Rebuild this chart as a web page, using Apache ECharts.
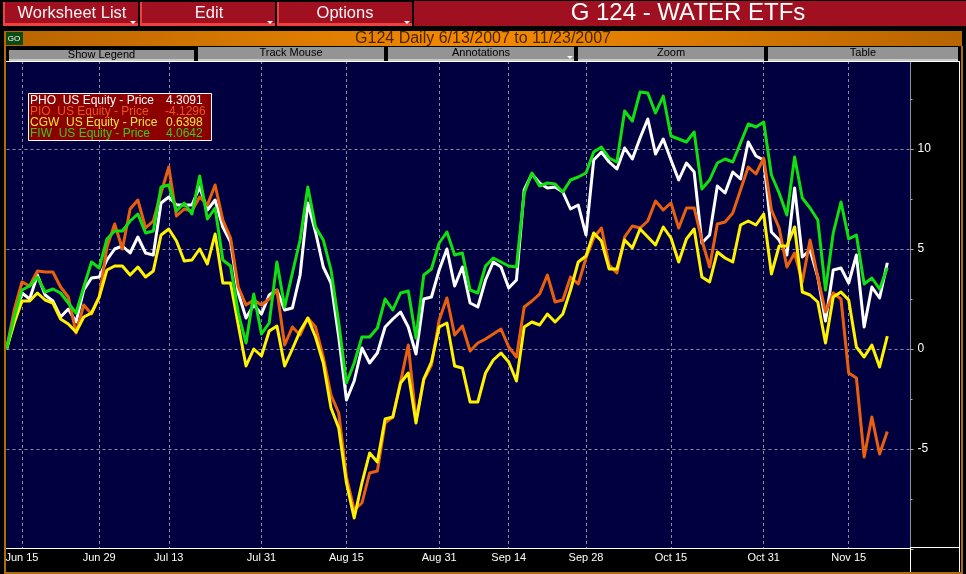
<!DOCTYPE html>
<html>

<head>
    <meta charset="utf-8" />
    <script src="https://cdn.jsdelivr.net/npm/echarts@6/dist/echarts.min.js"></script>
    <style>
        html, body { margin: 0; padding: 0; background: #000; overflow: hidden; }
    </style>
</head>

<body>
    <div id="main" style="width: 966px;height: 574px;"></div>

    <script type="text/javascript">
        var tradingDays = [
            'Jun 13', 'Jun 14', 'Jun 15', 'Jun 18', 'Jun 19', 'Jun 20', 'Jun 21', 'Jun 22', 'Jun 25', 'Jun 26',
            'Jun 27', 'Jun 28', 'Jun 29', 'Jul 2', 'Jul 3', 'Jul 5', 'Jul 6', 'Jul 9', 'Jul 10', 'Jul 11',
            'Jul 12', 'Jul 13', 'Jul 16', 'Jul 17', 'Jul 18', 'Jul 19', 'Jul 20', 'Jul 23', 'Jul 24', 'Jul 25',
            'Jul 26', 'Jul 27', 'Jul 30', 'Jul 31', 'Aug 1', 'Aug 2', 'Aug 3', 'Aug 6', 'Aug 7', 'Aug 8',
            'Aug 9', 'Aug 10', 'Aug 13', 'Aug 14', 'Aug 15', 'Aug 16', 'Aug 17', 'Aug 20', 'Aug 21', 'Aug 22',
            'Aug 23', 'Aug 24', 'Aug 27', 'Aug 28', 'Aug 29', 'Aug 30', 'Aug 31', 'Sep 4', 'Sep 5', 'Sep 6',
            'Sep 7', 'Sep 10', 'Sep 11', 'Sep 12', 'Sep 13', 'Sep 14', 'Sep 17', 'Sep 18', 'Sep 19', 'Sep 20',
            'Sep 21', 'Sep 24', 'Sep 25', 'Sep 26', 'Sep 27', 'Sep 28', 'Oct 1', 'Oct 2', 'Oct 3', 'Oct 4',
            'Oct 5', 'Oct 8', 'Oct 9', 'Oct 10', 'Oct 11', 'Oct 12', 'Oct 15', 'Oct 16', 'Oct 17', 'Oct 18',
            'Oct 19', 'Oct 22', 'Oct 23', 'Oct 24', 'Oct 25', 'Oct 26', 'Oct 29', 'Oct 30', 'Oct 31', 'Nov 1',
            'Nov 2', 'Nov 5', 'Nov 6', 'Nov 7', 'Nov 8', 'Nov 9', 'Nov 12', 'Nov 13', 'Nov 14', 'Nov 15',
            'Nov 16', 'Nov 19', 'Nov 20', 'Nov 21', 'Nov 23', ' ', '  ', '   '
        ];
        var tickLabels = ['Jun 15', 'Jun 29', 'Jul 13', 'Jul 31', 'Aug 15', 'Aug 31', 'Sep 14', 'Sep 28', 'Oct 15', 'Oct 31', 'Nov 15'];

        var pho = [
            0, 1.45, 2.8, 2.5, 3.7, 2.7, 2.4, 1.6, 2.0, 1.35,
            2.95, 3.55, 3.6, 4.45, 5.0, 5.15, 4.8, 5.6, 4.8, 4.7,
            7.3, 7.6, 7.2, 7.2, 7.2, 8.1, 6.95, 7.45, 6.1, 5.35,
            2.8, 1.55, 2.2, 1.75, 2.7, 2.95, 1.95, 2.05, 3.7, 7.3,
            5.85, 4.1, 3.3, 0.6, -2.55, -1.6, 0.05, -0.7, -0.2, 1.1,
            1.5, 1.85, 1.1, -0.25, 2.5, 2.6, 3.95, 5.0, 3.15, 4.1,
            2.3, 2.1, 3.45, 4.35, 4.1, 3.05, 3.45, 7.95, 8.75, 8.3,
            8.05, 8.1, 7.85, 7.0, 7.2, 5.7, 9.45, 9.85, 9.35, 9.0,
            10.05, 9.5, 10.55, 11.5, 9.75, 10.5, 9.45, 8.45, 9.3, 8.85,
            5.3, 5.7, 8.15, 7.8, 8.85, 8.5, 10.35, 9.65, 9.45, 5.85,
            5.45, 4.7, 8.05, 4.6, 4.95, 3.6, 1.4, 3.95, 4.05, 3.3,
            4.7, 1.1, 3.1, 2.55, 4.31
        ];
        var pio = [
            0, 1.95, 3.35, 3.15, 3.9, 3.85, 3.85, 3.1, 2.6, 0.8,
            2.2, 1.75, 2.6, 5.1, 6.25, 5.0, 7.0, 7.45, 6.05, 6.4,
            7.8, 9.1, 6.65, 7.0, 6.9, 7.6, 7.2, 8.2, 6.45, 5.55,
            3.1, 2.2, 2.45, 2.2, 2.5, 2.95, 0.2, 1.1, 0.7, 1.55,
            1.1, -0.4, -2.3, -3.2, -6.4, -8.05, -7.7, -6.2, -6.1, -3.7,
            -3.4, -1.65, 0.2, -3.55, -1.55, -0.8, 1.45, 2.55, 0.7, 1.15,
            -0.1, 0.3, 0.5, 0.75, 1.0, 0.1, -0.4, 2.1, 2.4, 2.75,
            3.7, 2.35, 2.45, 3.6, 3.25, 4.55, 5.55, 6.05, 4.2, 3.8,
            5.6, 6.15, 6.05, 6.4, 7.4, 6.95, 7.3, 6.05, 7.05, 7.05,
            5.45, 4.1, 6.25, 6.35, 6.8, 7.95, 9.1, 8.75, 9.55, 6.95,
            6.05, 4.1, 4.8, 3.35, 5.45, 3.6, 1.85, 2.8, 2.5, -1.2,
            -1.45, -5.4, -3.4, -5.25, -4.13
        ];
        var cgw = [
            0, 1.3, 2.4, 2.4, 2.8, 2.45, 2.3, 1.5, 1.25, 0.85,
            1.6, 1.8, 2.6, 3.95, 4.15, 4.15, 3.7, 4.1, 3.6, 3.9,
            5.7, 6.0, 5.4, 4.4, 4.45, 5.0, 4.25, 5.75, 3.3, 3.3,
            1.2, -0.85, 0.0, -0.35, 0.9, 1.15, -0.85, 0.0, 0.9, 1.55,
            0.6, -0.7, -2.95, -3.95, -6.7, -8.45, -6.7, -5.2, -5.65, -3.5,
            -3.4, -1.7, -1.2, -3.7, -1.5, -0.65, 1.1, 1.3, -0.85, -0.95,
            -2.65, -2.65, -1.2, -0.55, -0.2, -0.65, -1.6, 1.1, 1.35, 1.2,
            1.75, 1.35, 1.75, 2.95, 4.35, 4.65, 5.8, 5.4, 4.0, 4.0,
            5.45, 5.05, 6.0, 5.6, 5.2, 6.1, 5.55, 4.35, 5.5, 6.0,
            3.6, 3.35, 4.85, 4.55, 4.35, 6.2, 6.4, 6.2, 6.75, 3.75,
            5.15, 5.15, 6.1, 2.85, 2.7, 2.35, 0.3, 2.6, 2.85, 2.45,
            0.1, -0.4, 0.2, -0.9, 0.64
        ];
        var fiw = [
            0, 1.6, 2.95, 3.15, 3.6, 2.85, 3.0, 2.8, 2.3, 1.8,
            3.1, 4.35, 4.05, 5.5, 5.9, 5.9, 6.4, 6.75, 5.8, 5.9,
            8.1, 8.2, 6.9, 7.3, 6.75, 8.65, 6.5, 7.05, 4.45, 4.15,
            1.8, 0.3, 2.75, 0.75, 1.3, 4.35, 2.1, 3.8, 5.45, 8.1,
            6.1, 5.45, 3.95, 1.3, -1.7, -0.7, 0.6, 0.6, 1.05, 2.5,
            1.95, 2.8, 2.9, 0.55, 3.7, 4.0, 5.3, 5.85, 4.7, 4.8,
            2.95, 2.8, 4.15, 4.55, 4.35, 4.15, 4.1, 7.8, 8.8, 8.15,
            8.3, 8.25, 7.85, 8.45, 8.6, 8.8, 9.85, 10.1, 9.55, 9.35,
            11.9, 11.4, 12.85, 12.8, 11.8, 12.65, 10.65, 10.5, 10.35, 10.85,
            8.0, 8.45, 9.3, 9.5, 9.35, 10.3, 11.25, 11.1, 11.35, 8.7,
            7.8, 6.7, 9.6, 7.55, 7.05, 6.45, 2.95, 5.8, 7.35, 5.5,
            5.7, 3.25, 3.55, 3.0, 4.06
        ];

        var seriesNames = ['PHO  US Equity - Price', 'PIO  US Equity - Price', 'CGW  US Equity - Price', 'FIW  US Equity - Price'];
        var legendValues = ['4.3091', '-4.1296', '0.6398', '4.0642'];
        var toolbarTabs = ['Show Legend', 'Track Mouse', 'Annotations', 'Zoom', 'Table'];

        var FONT = '"Liberation Sans", Arial, sans-serif';
        var lineColors = ['#ffffff', '#e8600f', '#fff200', '#10e010'];
        var legendColors = ['#ffffff', '#e8541c', '#f2e63c', '#3cc81e'];

        function rect(x, y, w, h, fill) {
            return { type: 'rect', z: 100, shape: { x: x, y: y, width: w, height: h }, style: { fill: fill }, silent: true };
        }
        function label(x, y, text, size, color, align) {
            return {
                type: 'text', z: 101, x: x, y: y, silent: true,
                style: { text: text, fill: color, font: size + 'px ' + FONT, textAlign: align || 'center', textVerticalAlign: 'middle' }
            };
        }
        function arrow(x, y) {
            return { type: 'polygon', z: 101, shape: { points: [[x, y], [x + 6, y], [x + 3, y + 3]] }, style: { fill: '#fff' }, silent: true };
        }

        var els = [];
        // top frame, covers everything above the plot
        els.push(rect(0, 0, 966, 62, '#000'));

        // menu buttons
        var buttons = [[3, 135, 'Worksheet List', 72], [140, 135, 'Edit', 209], [277, 135, 'Options', 345]];
        buttons.forEach(function (b) {
            els.push(rect(b[0], 2, b[1], 24, '#f04040'));
            els.push(rect(b[0] + 2, 2, b[1] - 2, 21, '#a01020'));
            els.push(label(b[3], 13, b[2], 16.5, '#f4f4f4'));
            els.push(arrow(b[0] + b[1] - 8, 21));
        });
        els.push(rect(414, 1, 552, 25, '#a01020'));
        els.push(label(688, 13, 'G 124 - WATER ETFs', 24, '#ffffff'));

        // orange title strip
        els.push({
            type: 'rect', z: 100, shape: { x: 4, y: 31, width: 958, height: 15 }, silent: true,
            style: {
                fill: {
                    type: 'linear', x: 0, y: 0, x2: 1, y2: 0,
                    colorStops: [{ offset: 0, color: '#b86400' }, { offset: 0.5, color: '#f48a00' }, { offset: 1, color: '#b86400' }]
                }
            }
        });
        els.push(rect(6, 32, 17, 13, '#0c4a10'));
        els.push(label(14, 39, 'GO', 8, '#ffffff'));
        els.push(label(483, 38.5, 'G124 Daily 6/13/2007 to 11/23/2007', 16, '#4a2400'));

        // grey tabs
        var tabX = [8, 197, 387, 577, 767];
        var tabW = [187, 188, 188, 188, 192];
        toolbarTabs.forEach(function (t, i) {
            els.push(rect(tabX[i], 46, tabW[i], 15, '#000'));
            els.push(rect(tabX[i] + 1, i === 0 ? 50 : 47, tabW[i] - 2, i === 0 ? 10 : 12, '#949494'));
            els.push(rect(tabX[i] + 1, 59, tabW[i] - 2, 2, '#c8c8c8'));
            els.push(label(tabX[i] + tabW[i] / 2, i === 0 ? 55 : 53, t, 11, '#000'));
        });
        els.push(arrow(567, 56));
        els.push(rect(6, 61, 954, 1, '#ffffff'));

        // frame
        els.push(rect(4, 46, 2, 528, '#b06a10'));
        els.push(rect(961, 46, 2, 528, '#b06a10'));
        els.push(rect(4, 572, 959, 2, '#b06a10'));
        els.push(rect(959, 62, 1, 510, '#ffffff'));
        els.push(rect(6, 549, 905, 1, '#000000'));
        els.push(rect(6, 548, 905, 1, '#ffffff'));
        els.push(rect(910, 548, 1, 24, '#ffffff'));
        els.push(rect(910, 547, 50, 1, '#ffffff'));

        // value box
        els.push({
            type: 'rect', z: 100, shape: { x: 28.5, y: 93.5, width: 183, height: 47 }, silent: true,
            style: { fill: '#8c0000', stroke: '#ffffff', lineWidth: 1 }
        });
        seriesNames.forEach(function (n, i) {
            var y = 100.5 + i * 11;
            els.push(label(30, y, n, 12, legendColors[i], 'left'));
            els.push(label(i === 1 ? 165 : 166, y, legendValues[i], 12, legendColors[i], 'left'));
        });

        var chartDom = document.getElementById('main');
        var myChart = echarts.init(chartDom);
        var option;

        function isTick(index, value) {
            return tickLabels.indexOf(value) >= 0;
        }

        option = {
            animation: false,
            backgroundColor: '#000000',
            grid: {
                show: true, left: 6.5, top: 49, width: 904, height: 500,
                backgroundColor: '#000040', borderWidth: 0
            },
            xAxis: {
                type: 'category',
                boundaryGap: false,
                data: tradingDays,
                axisLine: { onZero: false, lineStyle: { color: '#ffffff', width: 1 } },
                axisTick: { show: false },
                axisLabel: { interval: isTick, color: '#ffffff', fontFamily: FONT, fontSize: 11, margin: 3, hideOverlap: false },
                splitLine: { show: true, interval: isTick, lineStyle: { color: '#8c8c9c', type: [3, 3], width: 1 } }
            },
            yAxis: {
                type: 'value',
                position: 'right',
                min: -10,
                max: 15,
                interval: 5,
                axisLine: { show: true, lineStyle: { color: '#909090', width: 1 } },
                axisTick: { show: true, inside: false, length: 3, lineStyle: { color: '#b0b0b0' } },
                minorTick: { show: true, splitNumber: 2, length: 2, lineStyle: { color: '#b0b0b0' } },
                axisLabel: {
                    color: '#ffffff', fontFamily: FONT, fontSize: 12, margin: 7, align: 'left', padding: [2, 0, 0, 0],
                    formatter: function (v) { return (v === -10 || v === 15) ? '' : String(v); }
                },
                splitLine: { show: true, lineStyle: { color: '#8c8c9c', type: [3, 3], width: 1 } }
            },
            series: [pho, pio, cgw, fiw].map(function (values, i) {
                return {
                    name: seriesNames[i],
                    type: 'line',
                    data: values,
                    showSymbol: false,
                    lineStyle: { color: lineColors[i], width: 3, join: 'round' }
                };
            }),
            graphic: { elements: els }
        };

        option && myChart.setOption(option);
    </script>
</body>
</html>
